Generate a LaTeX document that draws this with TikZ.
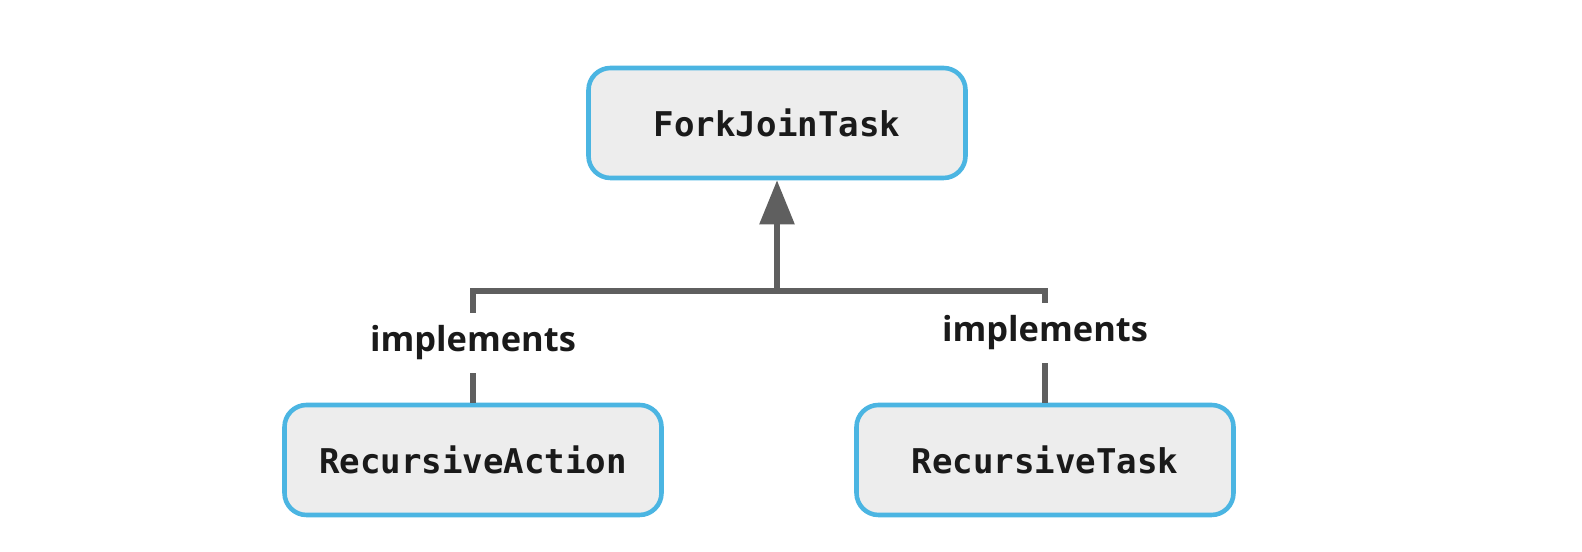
\documentclass[tikz,border=0pt]{standalone}
\usepackage{fontspec}
\setmainfont{Open Sans}
\setmonofont{DejaVu Sans Mono}
\usetikzlibrary{arrows.meta}

\definecolor{boxblue}{HTML}{4BB5E2}
\definecolor{boxfill}{HTML}{EDEDED}
\definecolor{linegray}{HTML}{5F5F5F}
\definecolor{txt}{HTML}{1A1A1A}

\tikzset{
  classbox/.style={draw=boxblue, line width=1.3pt, fill=boxfill, rounded corners=0.22cm,
    minimum width=3.77cm, minimum height=1.10cm, text=txt, font=\ttfamily\bfseries\fontsize{9.7}{12}\selectfont},
  conn/.style={draw=linegray, line width=1.6pt},
  lbl/.style={fill=white, inner sep=0.13cm, text=txt, font=\bfseries\fontsize{9.8}{12}\selectfont}
}

\begin{document}
\begin{tikzpicture}
\useasboundingbox (0,0) rectangle (15.82,5.52);

% classes
\node[classbox] (task)   at (7.77,4.29) {ForkJoinTask};
\node[classbox] (action) at (4.73,0.92) {RecursiveAction};
\node[classbox] (rtask)  at (10.45,0.92) {RecursiveTask};

% bar
\coordinate (bar) at (7.77,2.61);
\draw[conn] (action.north) -- (action.north |- bar) -- (rtask.north |- bar) -- (rtask.north);
\draw[conn, -{Triangle[length=0.44cm, width=0.34cm]}] (bar) -- (task.south);

% labels
\node[lbl] (implA) at (4.73,2.09) {implements};
\node[lbl] (implB) at (10.45,2.19) {implements};
\end{tikzpicture}
\end{document}
